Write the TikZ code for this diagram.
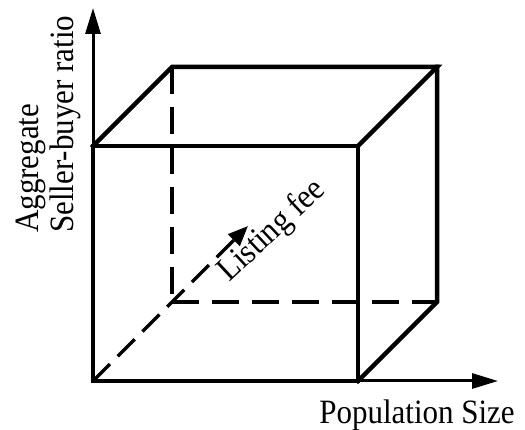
\documentclass[tikz,border=0pt]{standalone}
\usepackage{fontspec}
\usepackage{graphicx}
\setmainfont{Liberation Serif}
\usetikzlibrary{arrows.meta}
\newcommand{\tallText}[1]{\scalebox{1}[1.1]{#1}}
\begin{document}
\begin{tikzpicture}[x=1pt,y=-1pt,
  edge/.style={line width=4.5pt,line join=miter,line cap=rect},
  hidden/.style={line width=3.5pt,dash pattern=on 27pt off 13pt},
  axis/.style={line width=3pt,-{Triangle[length=26pt,width=15pt]}},
  lbl/.style={inner sep=0pt,font=\fontsize{31}{36}\selectfont}]
\useasboundingbox (0,0) rectangle (525,430);
% corners
\coordinate (O) at (93,381);
\coordinate (FTL) at (93,146);
\coordinate (FTR) at (358,146);
\coordinate (FBR) at (358,381);
\coordinate (BTL) at (172,67);
\coordinate (BTR) at (437,67);
\coordinate (BBR) at (437,302);
\coordinate (BBL) at (172,302);
\coordinate (Ytip) at (93,8);
\coordinate (Xtip) at (498,381);
\coordinate (Ztip) at (248,226);
% axes
\draw[axis] (O) -- (Ytip);
\draw[axis] (O) -- (Xtip);
% hidden edges
\draw[hidden] (BTL) -- (BBL);
\draw[hidden] (BBL) -- (BBR);
\draw[line width=3.5pt,dash pattern=on 24pt off 11pt,-{Triangle[length=20pt,width=16pt]}] (O) -- (Ztip);
% visible edges
\draw[edge] (O) -- (FTL) -- (FTR) -- (FBR) -- cycle;
\draw[edge] (FTL) -- (BTL) -- (BTR) -- (FTR);
\draw[edge] (BTR) -- (BBR) -- (FBR);
% labels
\node[lbl,rotate=90,anchor=base west] (agg) at (38,233) {\tallText{Aggregate}};
\node[lbl,rotate=90,anchor=base west] (sbr) at (73,233) {\tallText{Seller-buyer ratio}};
\node[lbl,anchor=base] (pop) at (417,424) {\tallText{Population Size}};
\node[lbl,rotate=43,anchor=base west] (fee) at (229,283) {\tallText{Listing fee}};
\end{tikzpicture}
\end{document}
